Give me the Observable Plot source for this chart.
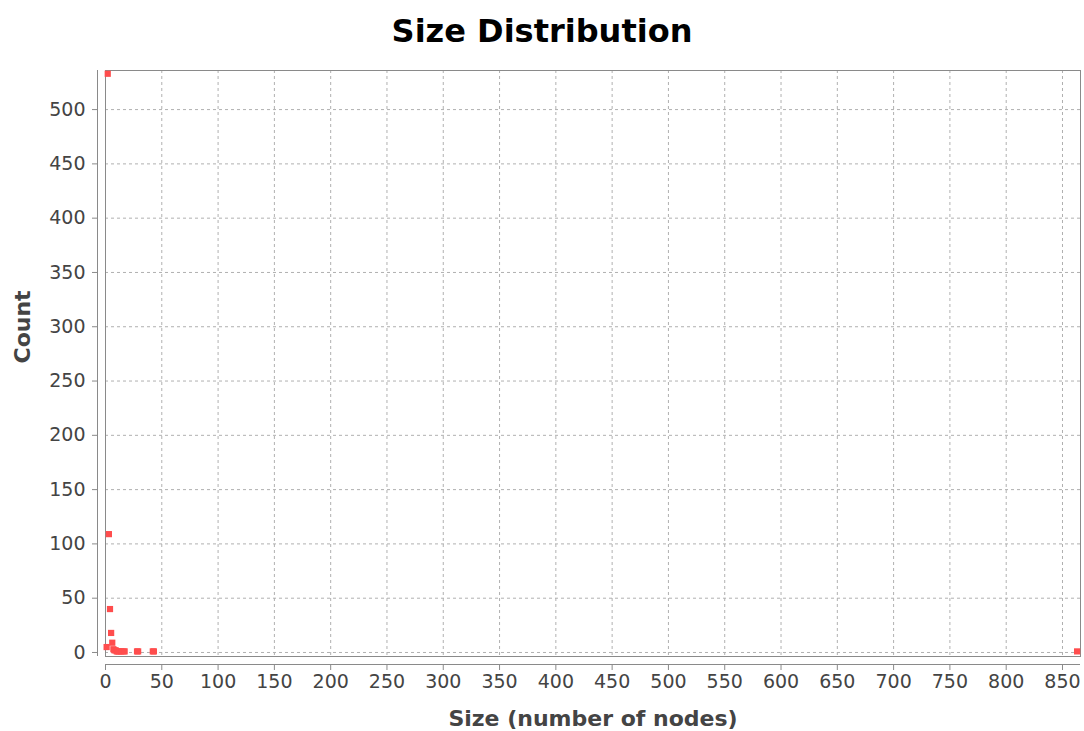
<!DOCTYPE html>
<html><head><meta charset="utf-8">
<script src="https://cdn.jsdelivr.net/npm/d3@7"></script>
<script src="https://cdn.jsdelivr.net/npm/@observablehq/plot@0.6"></script>
<style>
body{margin:0;background:#fff;}
#title{width:1084px;height:60px;box-sizing:border-box;padding-top:12px;line-height:38px;text-align:center;font:bold 32px "DejaVu Sans";color:#000;}
</style></head><body>
<div id="title">Size Distribution</div>
<div id="chart"></div>
<script>
const sizes  = [1, 2,   3,   4,  5,  6, 7, 8, 9, 10, 11, 12, 14, 16, 17, 28, 29, 42, 43, 863];
const counts = [5, 533, 109, 40, 18, 9, 3, 2, 2, 1,  1,  1,  1,  1,  1,  1,  1,  1,  1,  1];
const xTicks = [0,50,100,150,200,250,300,350,400,450,500,550,600,650,700,750,800,850];
const yTicks = [0,50,100,150,200,250,300,350,400,450,500];
const xLabel = "Size (number of nodes)";
const yLabel = "Count";

const data = sizes.map((s, i) => ({size: s, count: counts[i]}));
const yMin = -3.7, yMax = 536;
const chart = Plot.plot({
  width: 1084, height: 671,
  marginTop: 10, marginBottom: 75, marginLeft: 105, marginRight: 4,
  x: {domain: [0, 866], label: null},
  y: {domain: [yMin, yMax], label: null},
  style: {fontFamily: "DejaVu Sans", fontSize: "19px", color: "#444", background: "#fff"},
  marks: [
    Plot.gridX(xTicks, {stroke: "#b0b0b0", strokeOpacity: 1, strokeDasharray: "3,3"}),
    Plot.gridY(yTicks, {stroke: "#b0b0b0", strokeOpacity: 1, strokeDasharray: "3,3"}),
    Plot.frame({stroke: "#8a8a8a"}),
    Plot.ruleY([yMin], {dy: 8, stroke: "#8a8a8a"}),
    Plot.ruleX([0], {dx: -8, stroke: "#8a8a8a"}),
    Plot.axisX(xTicks, {dy: 8, tickSize: 6, tickPadding: 4, stroke: "#8a8a8a", fill: "#444", fontSize: 19}),
    Plot.axisY(yTicks, {dx: -8, tickSize: 5, tickPadding: 7, stroke: "#8a8a8a", fill: "#444", fontSize: 19}),
    Plot.dot(data, {x: "size", y: "count", symbol: "square", r: 3.5, fill: "#ff4d4d"}),
    Plot.text([xLabel], {frameAnchor: "bottom", dy: 62, lineAnchor: "middle", fontWeight: "bold", fontSize: 22, fill: "#444"}),
    Plot.text([yLabel], {frameAnchor: "left", dx: -83, rotate: -90, lineAnchor: "middle", fontWeight: "bold", fontSize: 22, fill: "#444"})
  ]
});
document.getElementById("chart").appendChild(chart);
</script>
</body></html>
